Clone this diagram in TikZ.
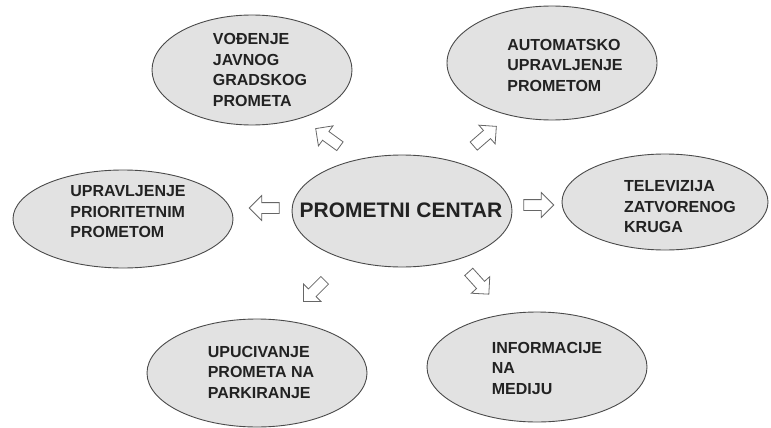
\documentclass[tikz,border=0pt]{standalone}
\usepackage{fontspec}
\setmainfont{Liberation Sans}
\usetikzlibrary{shapes.geometric,shapes.arrows}
\definecolor{ellfill}{HTML}{E2E2E2}
\definecolor{ellline}{HTML}{4A4A4A}
\definecolor{arrline}{HTML}{666666}
\definecolor{txt}{HTML}{222222}
\begin{document}
\begin{tikzpicture}[x=1pt,y=-1pt,
  oval/.style={ellipse,draw=ellline,fill=ellfill,line width=0.9pt,inner sep=0pt},
  lbl/.style={align=left,text=txt,font=\fontsize{16}{20.5}\selectfont\bfseries,inner sep=0pt},
  barrow/.style={single arrow,draw=arrline,fill=white,line width=0.8pt,inner sep=5pt,
    minimum height=30pt,single arrow head extend=7pt,single arrow head indent=0pt}]
\useasboundingbox (0,0) rectangle (771,428);
% ellipses
\node[oval,minimum width=220pt,minimum height=112pt] (c) at (402,211) {};
\node[oval,minimum width=200pt,minimum height=110pt] (tl) at (252,70) {};
\node[oval,minimum width=210pt,minimum height=114pt] (tr) at (552,63) {};
\node[oval,minimum width=220pt,minimum height=98pt] (l) at (123,219) {};
\node[oval,minimum width=206pt,minimum height=96pt] (r) at (665,202) {};
\node[oval,minimum width=220pt,minimum height=108pt] (bl) at (257,373) {};
\node[oval,minimum width=220pt,minimum height=110pt] (br) at (537,367) {};
% labels
\node[text=txt,font=\fontsize{21}{24}\selectfont\bfseries,inner sep=0pt] (ct) at (401,210) {PROMETNI CENTAR};
\node[lbl] (tlt) at (260,70) {VOĐENJE\\JAVNOG\\GRADSKOG\\PROMETA};
\node[lbl] (trt) at (565,65) {AUTOMATSKO\\UPRAVLJENJE\\PROMETOM};
\node[lbl] (lt) at (128,212) {UPRAVLJENJE\\PRIORITETNIM\\PROMETOM};
\node[lbl] (rt) at (680,207) {TELEVIZIJA\\ZATVORENOG\\KRUGA};
\node[lbl] (blt) at (261,372) {UPUCIVANJE\\PROMETA NA\\PARKIRANJE};
\node[lbl] (brt) at (547,368) {INFORMACIJE\\NA\\MEDIJU};
% block arrows
\node[barrow,rotate=180] (al) at (267,208) {};
\node[barrow,rotate=0] (ar) at (536,205) {};
\node[barrow,rotate=144] (atl) at (330,139) {};
\node[barrow,rotate=41] (atr) at (483,138) {};
\node[barrow,rotate=225] (abl) at (316,289) {};
\node[barrow,rotate=-48] (abr) at (477,281) {};
\end{tikzpicture}
\end{document}
